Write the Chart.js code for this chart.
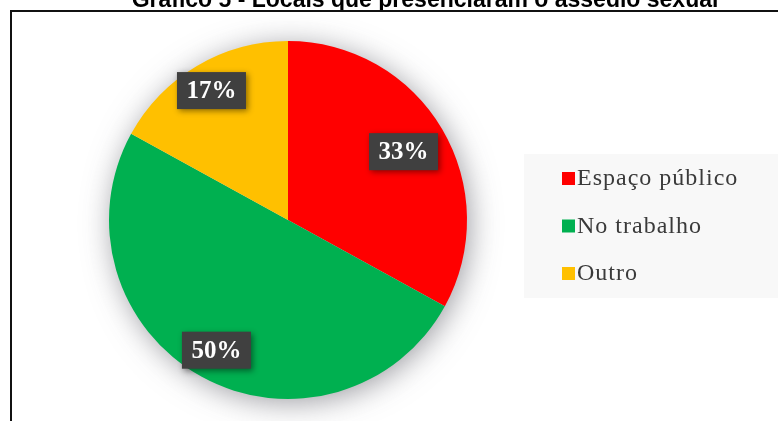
<!DOCTYPE html>
<html lang="pt">
<head>
<meta charset="utf-8">
<script src="https://cdn.jsdelivr.net/npm/chart.js@4/dist/chart.umd.min.js"></script>
<style>
  html, body { margin: 0; padding: 0; background: #ffffff; }
  #wrap { position: relative; width: 778px; height: 421px; overflow: hidden; }
  canvas { display: block; }
</style>
</head>
<body>
<div id="wrap"><canvas id="chart" width="778" height="421"></canvas></div>
<script>
// Locais onde o assédio foi presenciado (percentual de respostas)
const categories = ['Espaço público', 'No trabalho', 'Outro'];
const percentValues = [33, 50, 17];
const valueLabels = ['33%', '50%', '17%'];
const chartTitle = 'Gráfico 5 - Locais que presenciaram o assédio sexual';

// Estilo
const sliceColors = ['#ff0000', '#00b050', '#ffc000'];
const labelRadius = [0.75, 0.83, 0.84];

// Título, moldura, sombra da pizza, rótulos e legenda
const decorPlugin = {
  id: 'decor',
  beforeDraw(chart) {
    const ctx = chart.ctx;
    ctx.save();
    ctx.fillStyle = '#ffffff';
    ctx.fillRect(0, 0, chart.width, chart.height);
    // título
    ctx.fillStyle = '#000000';
    ctx.font = 'bold 23px "Liberation Sans", Arial, sans-serif';
    ctx.textAlign = 'center';
    ctx.textBaseline = 'alphabetic';
    ctx.fillText(chartTitle, 425, 7);
    // moldura
    ctx.strokeStyle = '#111111';
    ctx.lineWidth = 2;
    ctx.beginPath();
    ctx.moveTo(11, chart.height);
    ctx.lineTo(11, 11);
    ctx.lineTo(chart.width, 11);
    ctx.stroke();
    // caixa da legenda
    ctx.fillStyle = '#f8f8f8';
    ctx.fillRect(524, 154, 254, 144);
    ctx.restore();
  },
  beforeDatasetsDraw(chart) {
    const arc = chart.getDatasetMeta(0).data[0];
    if (!arc) return;
    const ctx = chart.ctx;
    ctx.save();
    ctx.shadowColor = 'rgba(70,70,80,0.55)';
    ctx.shadowBlur = 30;
    ctx.shadowOffsetX = 3;
    ctx.shadowOffsetY = 4;
    ctx.fillStyle = '#dddddd';
    ctx.beginPath();
    ctx.arc(arc.x, arc.y, arc.outerRadius - 1, 0, Math.PI * 2);
    ctx.fill();
    ctx.restore();
  },
  afterDatasetsDraw(chart) {
    const ctx = chart.ctx;
    const meta = chart.getDatasetMeta(0);
    ctx.save();
    meta.data.forEach((arc, i) => {
      const mid = (arc.startAngle + arc.endAngle) / 2;
      const r = arc.outerRadius * labelRadius[i];
      const cx = arc.x + Math.cos(mid) * r;
      const cy = arc.y + Math.sin(mid) * r;
      const w = 69, h = 37;
      ctx.save();
      ctx.shadowColor = 'rgba(0,0,0,0.45)';
      ctx.shadowBlur = 6;
      ctx.shadowOffsetX = 2;
      ctx.shadowOffsetY = 2;
      ctx.fillStyle = '#404040';
      ctx.fillRect(cx - w / 2, cy - h / 2, w, h);
      ctx.restore();
      ctx.fillStyle = '#ffffff';
      ctx.font = 'bold 25px "Liberation Serif", "Times New Roman", serif';
      ctx.textAlign = 'center';
      ctx.textBaseline = 'middle';
      ctx.fillText(valueLabels[i], cx, cy + 1);
    });
    // legenda
    const ds = chart.data.datasets[0];
    chart.data.labels.forEach((lab, i) => {
      const y = 178 + i * 47.5;
      ctx.fillStyle = ds.backgroundColor[i];
      ctx.fillRect(562, y - 6, 13, 13);
      ctx.fillStyle = '#3a3a3a';
      ctx.font = '24px "Liberation Serif", "Times New Roman", serif';
      ctx.letterSpacing = '1px';
      ctx.textAlign = 'left';
      ctx.textBaseline = 'middle';
      ctx.fillText(lab, 577, y + 1);
      ctx.letterSpacing = '0px';
    });
    ctx.restore();
  }
};

new Chart(document.getElementById('chart'), {
  type: 'pie',
  data: {
    labels: categories,
    datasets: [{
      data: percentValues,
      backgroundColor: sliceColors,
      borderWidth: 0
    }]
  },
  options: {
    responsive: false,
    animation: false,
    layout: { padding: { left: 109, right: 311, top: 41, bottom: 22 } },
    plugins: {
      legend: { display: false },
      tooltip: { enabled: false },
      title: { display: false }
    }
  },
  plugins: [decorPlugin]
});
</script>
</body>
</html>
